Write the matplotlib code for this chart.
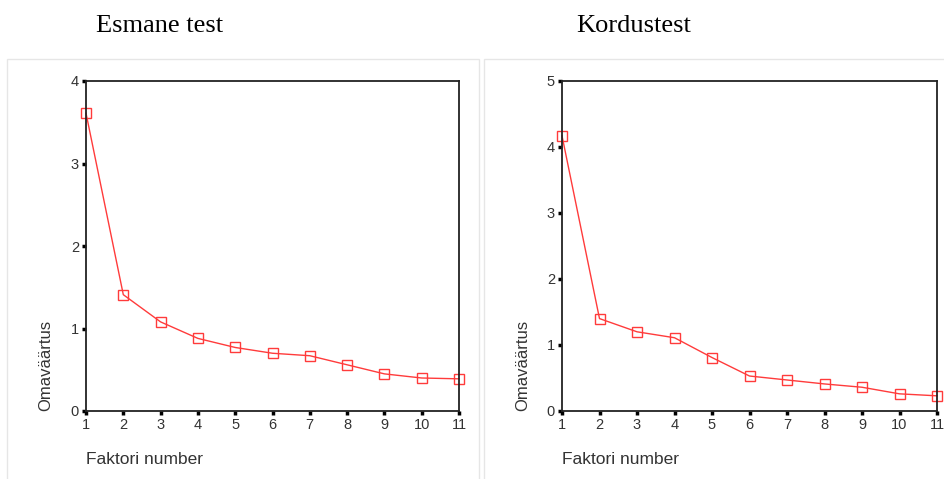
import matplotlib.pyplot as plt
from matplotlib.patches import Rectangle

# Andmed
faktorid = [1, 2, 3, 4, 5, 6, 7, 8, 9, 10, 11]
esmane = [3.61, 1.41, 1.08, 0.88, 0.77, 0.70, 0.67, 0.56, 0.45, 0.40, 0.39]
kordus = [4.17, 1.40, 1.20, 1.11, 0.81, 0.53, 0.47, 0.41, 0.36, 0.26, 0.23]
pealkirjad = ['Esmane test', 'Kordustest']
y_max = [4, 5]

W, H = 944, 479
fig = plt.figure(figsize=(W / 100, H / 100), dpi=100)
plt.rcParams['font.family'] = ['Liberation Sans', 'DejaVu Sans']


def px(x0, y0, x1, y1):
    # pikslid -> joonise koordinaadid
    return [x0 / W, 1 - y1 / H, (x1 - x0) / W, (y1 - y0) / H]


# Paneelide raamid
for x0, x1 in [(7, 479), (484, 950)]:
    fig.patches.append(Rectangle((x0 / W, -0.01), (x1 - x0) / W, 1 - 59 / H + 0.01,
                                 transform=fig.transFigure, fill=False,
                                 edgecolor='#e6e6e6', linewidth=1))

paneelid = [(86, 459, esmane, 160, 46), (562, 937, kordus, 634, 523)]
for i, (ax0, ax1, vals, tx, ylx) in enumerate(paneelid):
    ax = fig.add_axes(px(ax0, 81, ax1, 411))
    ax.plot(faktorid, vals, color='#ff3b3b', linewidth=1, marker='s', markersize=7,
            markerfacecolor='none', markeredgecolor='#ff3b3b', markeredgewidth=1,
            clip_on=False)
    ax.set_xlim(1, 11)
    ax.set_ylim(0, y_max[i])
    ax.set_xticks(faktorid)
    ax.set_yticks(range(0, y_max[i] + 1))
    for s in ax.spines.values():
        s.set_linewidth(1.3)
        s.set_color('#222222')
    ax.tick_params(direction='out', length=3, width=2.5, labelsize=10.5,
                   labelcolor='#333333', pad=2)
    fig.text(tx / W, 1 - 26 / H, pealkirjad[i], ha='center', va='center',
             fontsize=19, family='Liberation Serif')
    fig.text(ylx / W, 1 - 411 / H, 'Omaväärtus', rotation=90, ha='center',
             va='bottom', fontsize=12, color='#333333')
    fig.text(ax0 / W, 1 - 460 / H, 'Faktori number', ha='left', va='center',
             fontsize=12.5, color='#333333')

plt.savefig('out.png', dpi=100)
